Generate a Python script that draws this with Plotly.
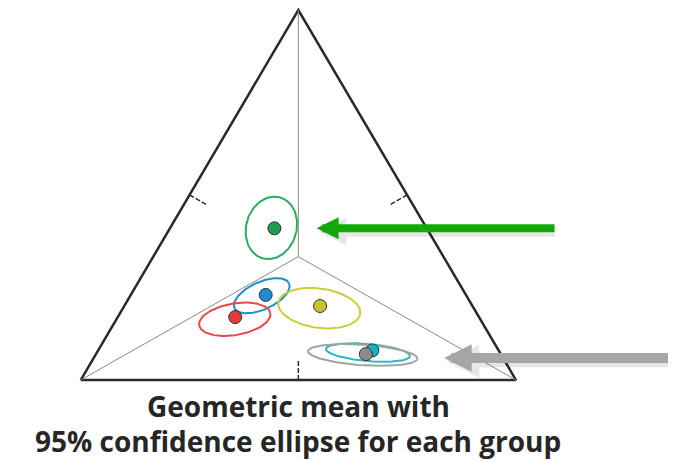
import numpy as np
import plotly.graph_objects as go

# Data: geometric mean composition of each group (top, left, right vertex shares)
groups = ["green", "blue", "red", "yellow", "teal", "grey"]
top_share = [0.41, 0.23, 0.17, 0.20, 0.08, 0.07]
left_share = [0.35, 0.46, 0.56, 0.35, 0.29, 0.31]
right_share = [0.24, 0.31, 0.27, 0.45, 0.63, 0.62]

# 95% confidence ellipse of each group (fractions of triangle side)
ell_major = [0.074, 0.069, 0.083, 0.095, 0.097, 0.126]
ell_minor = [0.058, 0.032, 0.037, 0.046, 0.020, 0.024]
ell_tilt = [75, 25, 10, -8, -5, -4]
ell_dx = [-0.007, -0.009, -0.001, -0.002, -0.010, -0.007]
ell_dy = [0.001, -0.002, -0.005, -0.005, -0.005, -0.002]

caption = ["Geometric mean with", "95% confidence ellipse for each group"]

# Styles
# ------
dot_colors = {"green": "#1f9e52", "blue": "#1c8cd0", "red": "#e03c3c",
              "yellow": "#c4c52c", "teal": "#1aafbf", "grey": "#8c8c8c"}
ring_colors = {"green": "#2cad62", "blue": "#1e90cf", "red": "#e8484a",
               "yellow": "#cace3c", "teal": "#27b8c4", "grey": "#a3a3a3"}
H = np.sqrt(3) / 2


def to_xy(a, b, c):
    a, b, c = np.asarray(a, float), np.asarray(b, float), np.asarray(c, float)
    s = a + b + c
    a, c = a / s, c / s
    return c + a / 2, a * H


fig = go.Figure()

# triangle frame
vx, vy = to_xy([0, 0, 1, 0], [1, 0, 0, 1], [0, 1, 0, 0])
fig.add_trace(go.Scatter(x=vx, y=vy, mode="lines",
                         line=dict(color="#2a2a2a", width=2.5),
                         hoverinfo="skip"))

# lines from centroid to vertices
cx, cy = to_xy(1, 1, 1)
for a, b, c in [(1, 0, 0), (0, 1, 0), (0, 0, 1)]:
    px, py = to_xy(a, b, c)
    fig.add_trace(go.Scatter(x=[cx, px], y=[cy, py], mode="lines",
                             line=dict(color="#8a8a8a", width=1),
                             hoverinfo="skip"))

# dashed ticks at side midpoints, pointing to the centroid
for a, b, c in [(0, 1, 1), (1, 0, 1), (1, 1, 0)]:
    mx, my = to_xy(a, b, c)
    tx = mx + (cx - mx) * 0.16
    ty = my + (cy - my) * 0.16
    fig.add_trace(go.Scatter(x=[mx, tx], y=[my, ty], mode="lines",
                             line=dict(color="#2a2a2a", width=1.5,
                                       dash="5px,2px"),
                             hoverinfo="skip"))

gx, gy = to_xy(top_share, left_share, right_share)

# confidence ellipses
t = np.linspace(0, 2 * np.pi, 120)
for i, g in enumerate(groups):
    th = np.radians(ell_tilt[i])
    ex = ell_major[i] * np.cos(t)
    ey = ell_minor[i] * np.sin(t)
    x = gx[i] + ell_dx[i] + ex * np.cos(th) - ey * np.sin(th)
    y = gy[i] + ell_dy[i] + ex * np.sin(th) + ey * np.cos(th)
    fig.add_trace(go.Scatter(x=x, y=y, mode="lines", name=g,
                             line=dict(color=ring_colors[g], width=2),
                             hoverinfo="skip"))

# geometric means
for i, g in enumerate(groups):
    fig.add_trace(go.Scatter(x=[gx[i]], y=[gy[i]], mode="markers", name=g,
                             marker=dict(size=13, color=dot_colors[g],
                                         line=dict(color="#333333", width=1))))

# arrows pointing at the green and grey groups
arrows = [("green", "#14a90b", 8, 0.097, 0.0, 0.55),
          ("grey", "#a6a6a6", 10, 0.18, -0.009, 0.75)]
for g, col, w, gap, dy, length in arrows:
    i = groups.index(g)
    tip_x, tip_y = gx[i] + gap, gy[i] + dy
    # soft shadow
    fig.add_annotation(x=tip_x + 0.005, y=tip_y - 0.008, ax=tip_x + length,
                       ay=tip_y - 0.008, xref="x", yref="y", axref="x",
                       ayref="y", text="", showarrow=True, arrowhead=2,
                       arrowsize=0.55, arrowwidth=w + 2,
                       arrowcolor="rgba(0,0,0,0.09)")
    fig.add_annotation(x=tip_x, y=tip_y, ax=tip_x + length, ay=tip_y,
                       xref="x", yref="y", axref="x", ayref="y", text="",
                       showarrow=True, arrowhead=2, arrowsize=0.55,
                       arrowwidth=w, arrowcolor=col)

# caption
for k, line in enumerate(caption):
    fig.add_annotation(x=0.5, xref="x", y=-0.0609 - k * 0.0819, yref="y",
                       yanchor="middle",
                       text="<b>%s</b>" % line, showarrow=False,
                       font=dict(family="Open Sans", size=28, color="#262626"))

# the page body adds an 8px margin, so the figure is 8px smaller
fig.update_layout(
    width=668, height=454, autosize=False,
    margin=dict(l=0, r=0, t=0, b=0),
    paper_bgcolor="white", plot_bgcolor="white",
    showlegend=False,
    xaxis=dict(range=[-0.1670, 1.3676], visible=False, fixedrange=True),
    yaxis=dict(range=[-0.1919, 0.8707], visible=False, fixedrange=True),
)

fig.write_html("out.html")
